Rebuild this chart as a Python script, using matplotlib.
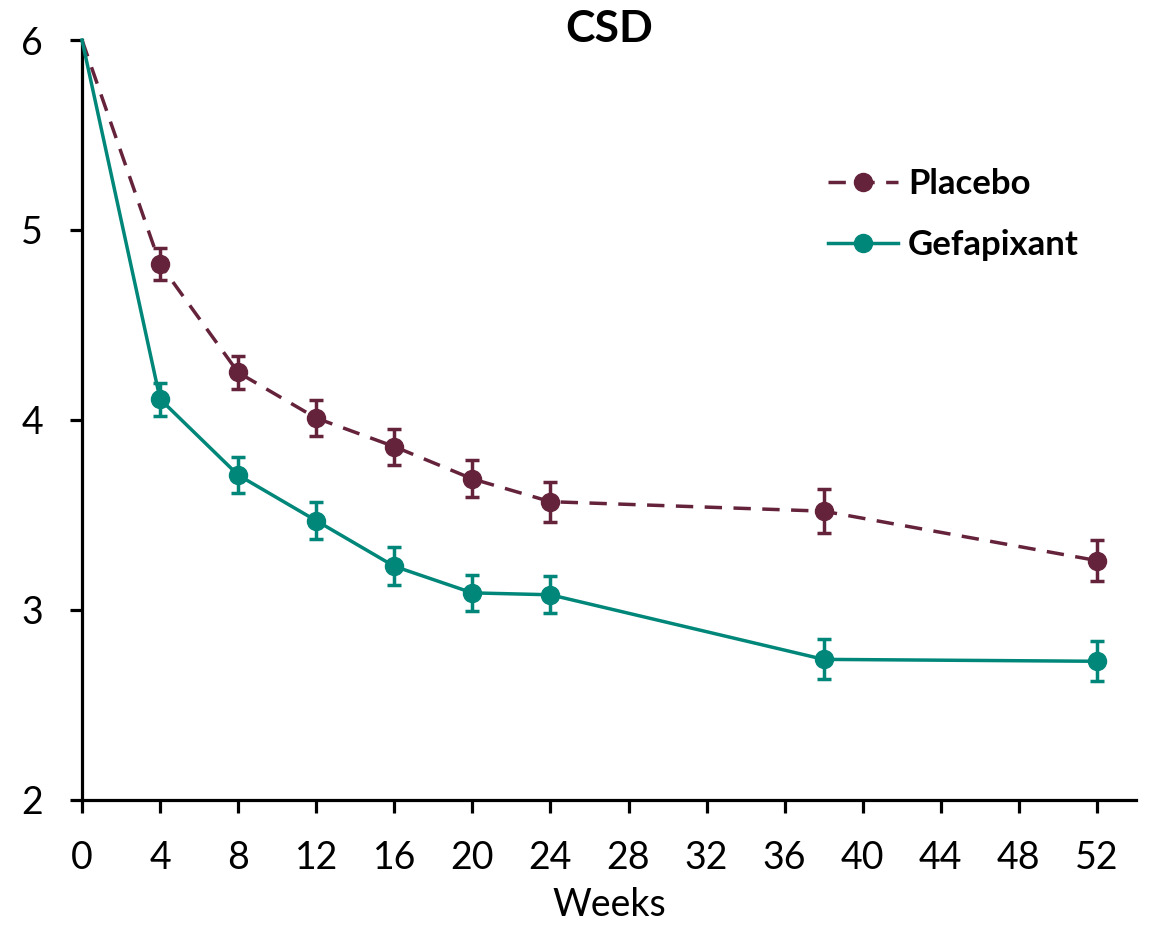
import matplotlib
matplotlib.use("Agg")
import matplotlib.pyplot as plt

weeks = [0, 4, 8, 12, 16, 20, 24, 38, 52]
placebo = [6.0, 4.82, 4.25, 4.01, 3.86, 3.69, 3.57, 3.52, 3.26]
placebo_err = [0.0, 0.085, 0.085, 0.095, 0.095, 0.097, 0.105, 0.115, 0.108]
gefapixant = [6.0, 4.11, 3.71, 3.47, 3.23, 3.09, 3.08, 2.74, 2.73]
gefapixant_err = [0.0, 0.087, 0.095, 0.097, 0.10, 0.095, 0.097, 0.105, 0.105]
xticks = list(range(0, 53, 4))
yticks = [2, 3, 4, 5, 6]

c_pl = "#65233B"
c_ge = "#00877A"

plt.rcParams['font.family'] = ['Lato', 'DejaVu Sans']

fig = plt.figure(figsize=(11.5, 9.26), dpi=100)
ax = fig.add_axes([0.0713, 0.1361, 0.9165, 0.8207])

ax.plot(weeks, placebo, color=c_pl, lw=2.5, dashes=(5, 3.3), marker='o', ms=13,
        markevery=list(range(1, len(weeks))), label='Placebo', clip_on=False, zorder=3)
ax.errorbar(weeks[1:], placebo[1:], yerr=placebo_err[1:], fmt='none', ecolor=c_pl,
            elinewidth=2.5, capsize=5, capthick=2.5, zorder=3)
ax.plot(weeks, gefapixant, color=c_ge, lw=2.5, marker='o', ms=13,
        markevery=list(range(1, len(weeks))), label='Gefapixant', clip_on=False, zorder=3)
ax.errorbar(weeks[1:], gefapixant[1:], yerr=gefapixant_err[1:], fmt='none', ecolor=c_ge,
            elinewidth=2.5, capsize=5, capthick=2.5, zorder=3)

ax.set_xlim(0, 54)
ax.set_ylim(2, 6)
ax.set_xticks(xticks)
ax.set_yticks(yticks)
for s in ['top', 'right']:
    ax.spines[s].set_visible(False)
for s in ['left', 'bottom']:
    ax.spines[s].set_linewidth(2.3)
ax.tick_params(axis='both', direction='out', length=9, width=2.3, labelsize=27)
ax.tick_params(axis='x', pad=20)
ax.tick_params(axis='y', pad=19)
ax.set_xlabel('Weeks', fontsize=27, labelpad=8)
fig.text(609 / 1150, 1 - 29 / 926, 'CSD', fontsize=32, fontweight='bold',
         ha='center', va='center')

leg = ax.legend(loc='upper left', bbox_to_anchor=(0.708, 0.832), frameon=False,
                borderpad=0, borderaxespad=0,
                handlelength=2.0, handletextpad=0.3, labelspacing=0.85,
                prop={'size': 25, 'weight': 'bold'})

fig.savefig('out.png', dpi=100)
